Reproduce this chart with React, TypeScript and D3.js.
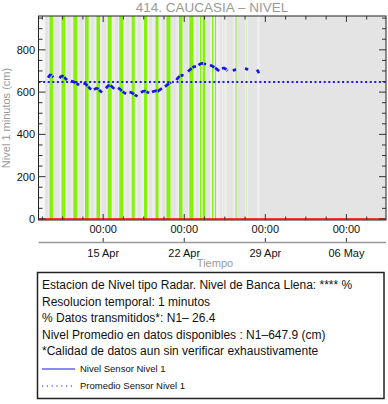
import React from 'react';
import * as d3 from 'd3';

const W = 388;
const H = 404;
const TITLE = '414. CAUCASIA – NIVEL';
const Y_LABEL = 'Nivel 1 minutos (cm)';
const X_LABEL = 'Tiempo';
const DOMAIN_START = '2024-04-09T10:00';
const DOMAIN_END = '2024-05-09T10:00';
const Y_DOMAIN: [number, number] = [-5, 960];
const Y_MAJOR = [0, 200, 400, 600, 800];
const Y_MINOR_STEP = 50;
const X_MAJOR = ['2024-04-15T00:00', '2024-04-22T00:00', '2024-04-29T00:00', '2024-05-06T00:00'];
const X_TIME_LABELS = ['00:00', '00:00', '00:00', '00:00'];
const X_DATE_LABELS = ['15 Apr', '22 Apr', '29 Apr', '06 May'];
const X_MINOR_HOURS = 42;
const MEAN_LEVEL = 647.9;

const INFO_LINES = [
  'Estacion de Nivel tipo Radar. Nivel de Banca Llena: **** %',
  'Resolucion temporal: 1 minutos',
  '% Datos transmitidos*: N1– 26.4',
  'Nivel Promedio en datos disponibles : N1–647.9 (cm)',
  '*Calidad de datos aun sin verificar exhaustivamente',
];
const LEGEND_LABELS = ['Nivel Sensor Nivel 1', 'Promedio Sensor Nivel 1'];

// periods with full transmission (green)
const GREEN_BARS: [string, string][] = [
  ['2024-04-10T08:50', '2024-04-10T16:00'],
  ['2024-04-11T09:40', '2024-04-11T17:30'],
  ['2024-04-12T10:05', '2024-04-12T18:25'],
  ['2024-04-13T10:20', '2024-04-13T18:00'],
  ['2024-04-14T10:10', '2024-04-14T17:25'],
  ['2024-04-15T09:25', '2024-04-15T17:40'],
  ['2024-04-16T09:25', '2024-04-16T17:40'],
  ['2024-04-17T11:05', '2024-04-17T17:20'],
  ['2024-04-18T12:35', '2024-04-18T18:50'],
  ['2024-04-19T12:25', '2024-04-19T18:35'],
  ['2024-04-20T11:10', '2024-04-20T19:30'],
  ['2024-04-21T13:05', '2024-04-21T20:25'],
  ['2024-04-22T10:30', '2024-04-22T19:10'],
  ['2024-04-23T08:35', '2024-04-23T11:20'],
  ['2024-04-23T14:10', '2024-04-23T19:35'],
  ['2024-04-24T09:30', '2024-04-24T12:10'],
  ['2024-04-24T15:40', '2024-04-24T17:50'],
  ['2024-04-26T10:20', '2024-04-26T12:00'],
];
// partial transmission (faint green)
const FAINT_BARS: [string, string][] = [
  ['2024-04-25T08:30', '2024-04-25T09:50'],
  ['2024-04-25T16:00', '2024-04-25T17:20'],
  ['2024-04-27T08:20', '2024-04-27T09:40'],
];
// light gaps
const LIGHT_BANDS: [string, string][] = [
  ['2024-04-09T10:00', '2024-04-09T23:30'],
  ['2024-04-28T10:30', '2024-04-28T11:40'],
];

const LEVEL_SEGMENTS: [string, number][][] = [
  [['2024-04-10T06:00', 668], ['2024-04-10T08:00', 676], ['2024-04-10T10:00', 681], ['2024-04-10T12:00', 680], ['2024-04-10T14:00', 676], ['2024-04-10T17:00', 671]],
  [['2024-04-11T05:30', 666], ['2024-04-11T08:30', 674], ['2024-04-11T11:30', 676], ['2024-04-11T15:00', 672], ['2024-04-11T18:00', 664], ['2024-04-11T21:00', 657]],
  [['2024-04-12T05:20', 652], ['2024-04-12T09:30', 650], ['2024-04-12T13:40', 645], ['2024-04-12T17:50', 640], ['2024-04-12T22:00', 633]],
  [['2024-04-13T07:15', 643], ['2024-04-13T10:20', 640], ['2024-04-13T14:30', 632], ['2024-04-13T18:40', 622], ['2024-04-13T22:50', 612]],
  [['2024-04-14T05:00', 612], ['2024-04-14T09:10', 618], ['2024-04-14T13:20', 616], ['2024-04-14T17:25', 606], ['2024-04-14T21:35', 598]],
  [['2024-04-15T05:50', 618], ['2024-04-15T10:00', 630], ['2024-04-15T14:10', 633], ['2024-04-15T18:20', 626], ['2024-04-15T23:30', 614]],
  [['2024-04-16T06:40', 620], ['2024-04-16T10:50', 614], ['2024-04-16T15:00', 605], ['2024-04-16T19:10', 598], ['2024-04-16T23:20', 592]],
  [['2024-04-17T06:35', 600], ['2024-04-17T10:40', 598], ['2024-04-17T14:50', 592], ['2024-04-17T19:00', 585], ['2024-04-17T23:05', 580]],
  [['2024-04-18T06:25', 598], ['2024-04-18T10:30', 604], ['2024-04-18T14:40', 605], ['2024-04-18T18:50', 600], ['2024-04-18T23:00', 596]],
  [['2024-04-19T05:10', 600], ['2024-04-19T09:20', 604], ['2024-04-19T13:30', 606], ['2024-04-19T17:35', 605], ['2024-04-19T21:45', 612], ['2024-04-20T01:55', 618]],
  [['2024-04-20T08:10', 626], ['2024-04-20T12:15', 634], ['2024-04-20T16:25', 640], ['2024-04-20T20:30', 645]],
  [['2024-04-21T07:55', 657], ['2024-04-21T11:00', 668], ['2024-04-21T15:10', 676], ['2024-04-21T19:20', 680], ['2024-04-21T22:25', 678]],
  [['2024-04-22T07:45', 697], ['2024-04-22T11:55', 706], ['2024-04-22T16:00', 714], ['2024-04-22T20:10', 720], ['2024-04-23T00:20', 722]],
  [['2024-04-23T05:30', 728], ['2024-04-23T08:35', 733], ['2024-04-23T12:45', 736], ['2024-04-23T16:55', 734], ['2024-04-23T21:00', 732]],
  [['2024-04-24T05:20', 728], ['2024-04-24T09:30', 724], ['2024-04-24T13:35', 718], ['2024-04-24T17:45', 712], ['2024-04-24T21:55', 704], ['2024-04-25T02:05', 697]],
  [['2024-04-25T06:10', 712], ['2024-04-25T10:20', 714], ['2024-04-25T14:30', 708], ['2024-04-25T17:35', 700]],
  [['2024-04-26T05:00', 700], ['2024-04-26T08:05', 705], ['2024-04-26T11:10', 708]],
  [['2024-04-27T05:50', 712], ['2024-04-27T09:00', 710], ['2024-04-27T12:05', 705]],
  [['2024-04-28T06:40', 706], ['2024-04-28T08:50', 698], ['2024-04-28T10:55', 690]],
];

const FONT = '"Liberation Sans", Arial, Helvetica, sans-serif';

export default function App() {
  const m = { l: 38.5, r: 386, t: 16, b: 220 };
  const x = d3.scaleTime().domain([new Date(DOMAIN_START), new Date(DOMAIN_END)]).range([m.l, m.r]);
  const y = d3.scaleLinear().domain(Y_DOMAIN).range([m.b, m.t]);
  const P = (s: string) => new Date(s);
  const line = d3.line<[string, number]>().x(d => x(P(d[0]))).y(d => y(d[1]));

  const majors = X_MAJOR.map(P);
  const [d0, d1] = x.domain();
  const minors: Date[] = [];
  for (let k = -20; k <= 20; k++) {
    const t = d3.timeHour.offset(majors[0], k * X_MINOR_HOURS);
    if (t >= d0 && t <= d1 && k % 4 !== 0) minors.push(t);
  }
  const yMinors = d3.range(0, Y_DOMAIN[1], Y_MINOR_STEP).filter(v => !Y_MAJOR.includes(v));
  const segBands = LEVEL_SEGMENTS.map(s => [s[0][0], s[s.length - 1][0]] as [string, string]);
  const tickColor = '#333';
  const box = { x: 37.5, y: 272.5, w: 346.5, h: 126 };

  return (
    <svg width={W} height={H} style={{ position: 'absolute', left: 0, top: 0, fontFamily: FONT }}>
      <rect x={0} y={0} width={W} height={H} fill="#fff" />
      <text x={212} y={12} textAnchor="middle" fontSize={13.5} fill="#999">{TITLE}</text>

      <rect x={m.l} y={m.t} width={m.r - m.l} height={m.b - m.t} fill="#e4e4e4" />
      {segBands.map((b, i) => (
        <rect key={'sb' + i} x={x(P(b[0]))} y={m.t} width={x(P(b[1])) - x(P(b[0]))} height={m.b - m.t} fill="#ededed" />
      ))}
      {LIGHT_BANDS.map((b, i) => (
        <rect key={'lb' + i} x={x(P(b[0]))} y={m.t} width={x(P(b[1])) - x(P(b[0]))} height={m.b - m.t} fill="#f6f6f6" />
      ))}
      {GREEN_BARS.map((b, i) => (
        <rect key={'g' + i} x={x(P(b[0]))} y={m.t} width={Math.max(0.8, x(P(b[1])) - x(P(b[0])))} height={m.b - m.t} fill="#86f20a" />
      ))}
      {FAINT_BARS.map((b, i) => (
        <rect key={'f' + i} x={x(P(b[0]))} y={m.t} width={x(P(b[1])) - x(P(b[0]))} height={m.b - m.t} fill="#cdf3a8" />
      ))}

      <line x1={m.l} x2={m.r} y1={y(MEAN_LEVEL)} y2={y(MEAN_LEVEL)} stroke="#1a1af0" strokeWidth={2} strokeDasharray="2 2.6" />
      {LEVEL_SEGMENTS.map((s, i) => (
        <path key={'s' + i} d={line(s) || ''} fill="none" stroke="#1414f0" strokeWidth={2.7} strokeDasharray="5 1" strokeLinejoin="round" />
      ))}

      <rect x={m.l} y={m.t} width={m.r - m.l} height={m.b - m.t} fill="none" stroke="#222" strokeWidth={1} />
      <line x1={m.l} x2={m.r} y1={y(0)} y2={y(0)} stroke="#ff0000" strokeWidth={1.6} />

      {Y_MAJOR.map(v => (
        <g key={'ym' + v}>
          <line x1={m.l} x2={m.l + 7} y1={y(v)} y2={y(v)} stroke={tickColor} />
          <line x1={m.r} x2={m.r - 7} y1={y(v)} y2={y(v)} stroke={tickColor} />
          <text x={m.l - 3.5} y={y(v) + 4} textAnchor="end" fontSize={11} fill="#111">{String(v)}</text>
        </g>
      ))}
      {yMinors.map(v => (
        <g key={'yn' + v}>
          <line x1={m.l} x2={m.l + 4} y1={y(v)} y2={y(v)} stroke={tickColor} />
          <line x1={m.r} x2={m.r - 4} y1={y(v)} y2={y(v)} stroke={tickColor} />
        </g>
      ))}
      <text transform={`translate(10,${(m.t + m.b) / 2}) rotate(-90)`} textAnchor="middle" fontSize={11} fill="#999">{Y_LABEL}</text>

      {majors.map((t, i) => (
        <g key={'xm' + i}>
          <line x1={x(t)} x2={x(t)} y1={m.b} y2={m.b - 6} stroke={tickColor} />
          <line x1={x(t)} x2={x(t)} y1={m.t} y2={m.t + 6} stroke={tickColor} />
          <line x1={x(t)} x2={x(t)} y1={242} y2={238} stroke={tickColor} />
        </g>
      ))}
      {majors.map((t, i) => (
        <text key={'xt' + i} x={x(t)} y={233} textAnchor="middle" fontSize={11} fill="#111">{X_TIME_LABELS[i]}</text>
      ))}
      {majors.map((t, i) => (
        <text key={'xd' + i} x={x(t)} y={256.5} textAnchor="middle" fontSize={11} fill="#111">{X_DATE_LABELS[i]}</text>
      ))}
      {minors.map((t, i) => (
        <g key={'xn' + i}>
          <line x1={x(t)} x2={x(t)} y1={m.b} y2={m.b - 3.5} stroke={tickColor} />
          <line x1={x(t)} x2={x(t)} y1={m.t} y2={m.t + 3.5} stroke={tickColor} />
        </g>
      ))}
      <line x1={m.l} x2={m.r} y1={242.5} y2={242.5} stroke="#999" strokeWidth={1.5} />
      <text x={215} y={267} textAnchor="middle" fontSize={11} fill="#999">{X_LABEL}</text>

      <rect x={box.x} y={box.y} width={box.w} height={box.h} fill="#fff" stroke="#222" strokeWidth={1.5} />
      {INFO_LINES.map((s, i) => (
        <text key={'il' + i} x={42} y={289 + i * 16.5} fontSize={12} fill="#111">{s}</text>
      ))}
      <line x1={42} x2={75} y1={369} y2={369} stroke="#1414f0" strokeWidth={1.2} />
      <text x={80} y={372} fontSize={9.5} fill="#111">{LEGEND_LABELS[0]}</text>
      <line x1={42} x2={75} y1={386} y2={386} stroke="#1414f0" strokeWidth={1.2} strokeDasharray="1.2 3.6" />
      <text x={80} y={389} fontSize={9.5} fill="#111">{LEGEND_LABELS[1]}</text>
    </svg>
  );
}
